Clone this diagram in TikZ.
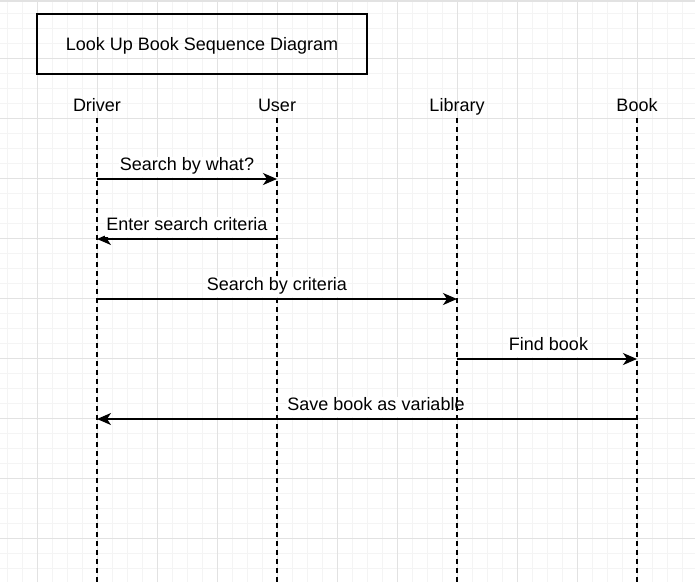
\documentclass[tikz,border=0pt]{standalone}
\usepackage{fontspec}
\setmainfont{Liberation Sans}
\usepackage{xcolor}
\usepackage{tikz}
\usetikzlibrary{arrows}
\usetikzlibrary{arrows.meta}
\usetikzlibrary{positioning}
\definecolor{gridmajor}{HTML}{E2E2E2}
\definecolor{gridminor}{HTML}{F4F4F4}

\begin{document}
\begin{tikzpicture}[x=1pt, y=-1pt, font=\fontsize{18pt}{22pt}\selectfont, titlebox/.style={draw, line width=1.6pt, minimum width=330pt, minimum height=60pt, text height=13pt, text depth=0pt}, head/.style={text height=13pt, text depth=0pt, inner sep=7pt}, lifeline/.style={dash pattern=on 4.5pt off 4.5pt, line width=1.5pt}, msg/.style={line width=1.5pt, -{Stealth[length=14pt, width=12pt, inset=4pt]}}, msglabel/.style={fill=white, text height=13pt, text depth=5pt, inner sep=1pt}]
	\useasboundingbox (0,0) rectangle (695,582);
	\fill[white] (0,0) rectangle (695,582);
	\begin{scope}[shift={(7,13)}]
		\draw[gridminor, line width=1pt, step=15pt] (-7,-13) grid (688,569);
	\end{scope}
	\begin{scope}[shift={(37,58)}]
		\draw[gridmajor, line width=1pt, step=60pt] (-37,-58) grid (658,524);
	\end{scope}
	\draw[gridmajor, line width=2pt] (0,1) -- (695,1);
	\node[titlebox] (T) at (202,44) {Look Up Book Sequence Diagram};
	\node[head] (D) at (97,104.5) {Driver};
	\node[head] (U) at (277,104.5) {User};
	\node[head] (L) at (457,104.5) {Library};
	\node[head] (B) at (637,104.5) {Book};
	\coordinate (De) at (97,582);
	\coordinate (Ue) at (277,582);
	\coordinate (Le) at (457,582);
	\coordinate (Be) at (637,582);
	\coordinate (D1) at (97,179);
	\coordinate (U1) at (277,179);
	\coordinate (U2) at (277,239);
	\coordinate (D2) at (97,239);
	\coordinate (D3) at (97,299);
	\coordinate (L3) at (457,299);
	\coordinate (L4) at (457,359);
	\coordinate (B4) at (637,359);
	\coordinate (B5) at (637,419);
	\coordinate (D5) at (97,419);
	\draw[lifeline] (D.south) -- (De);
	\draw[lifeline] (U.south) -- (Ue);
	\draw[lifeline] (B.south) -- (Be);
	\draw[msg] (D1) -- node[msglabel, above=1.5pt] {Search by what?} (U1);
	\draw[msg] (U2) -- node[msglabel, above=1.5pt] {Enter search criteria} (D2);
	\draw[msg] (D3) -- node[msglabel, above=1.5pt] {Search by criteria} (L3);
	\draw[msg] (L4) -- node[msglabel, above=1.5pt, xshift=1.5pt] {Find book} (B4);
	\draw[msg] (B5) -- node[msglabel, above=1.5pt, xshift=9pt] {Save book as variable} (D5);
	\draw[lifeline] (L.south) -- (Le);
\end{tikzpicture}
\end{document}
